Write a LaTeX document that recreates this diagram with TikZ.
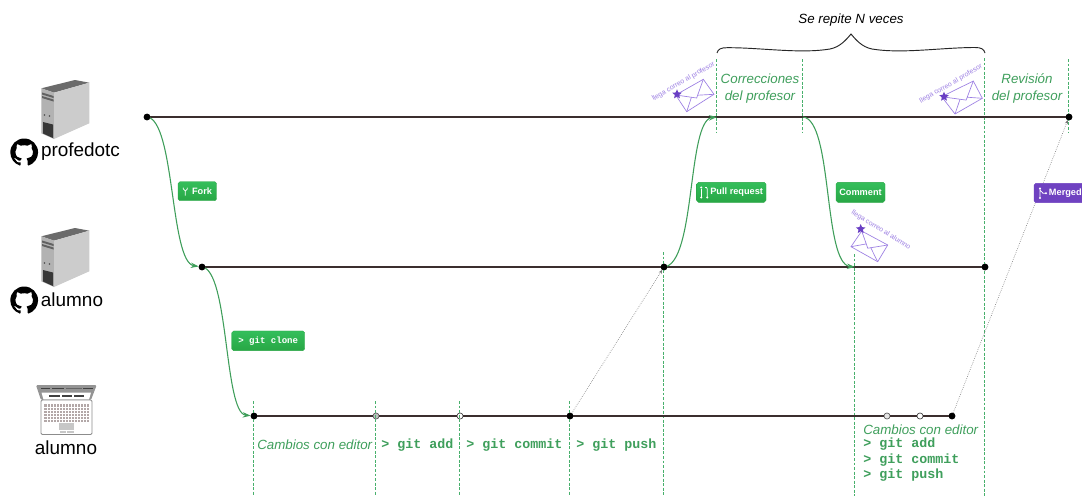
\documentclass[tikz,border=0pt]{standalone}
\usepackage{fontspec}
\setmainfont{Liberation Sans}
\setmonofont{Liberation Mono}
\usetikzlibrary{arrows.meta,calc,shapes.geometric,svg.path}
\definecolor{gtext}{HTML}{3F9F5C}
\definecolor{gcurve}{HTML}{3E9E5A}
\definecolor{gdash}{HTML}{48B06C}
\definecolor{tline}{HTML}{3B2E2E}
\definecolor{pmail}{HTML}{9C7FE3}
\definecolor{pstar}{HTML}{6A3FC4}
\definecolor{bgtop}{HTML}{34BE5B}
\definecolor{bgbot}{HTML}{28A745}
\definecolor{bpurple}{HTML}{6F42C1}
\definecolor{keycol}{HTML}{B3A8A8}
\newcommand{\pxf}[1]{\fontsize{#1pt}{1.2\dimexpr#1pt\relax}\selectfont}
\newcommand{\octomark}[2]{\path[fill=black,shift={(#1,#2)},scale=1.3,yscale=-1] svg {M 8 0 C 3.58 0 0 3.58 0 8 c 0 3.54 2.29 6.53 5.47 7.59 c 0.4 0.07 0.55 -0.17 0.55 -0.38 c 0 -0.19 -0.01 -0.82 -0.01 -1.49 c -2.01 0.37 -2.53 -0.49 -2.69 -0.94 c -0.09 -0.23 -0.48 -0.94 -0.82 -1.13 c -0.28 -0.15 -0.68 -0.52 -0.01 -0.53 c 0.63 -0.01 1.08 0.58 1.23 0.82 c 0.72 1.21 1.87 0.87 2.33 0.66 c 0.07 -0.52 0.28 -0.87 0.51 -1.07 c -1.78 -0.2 -3.64 -0.89 -3.64 -3.95 c 0 -0.87 0.31 -1.59 0.82 -2.15 c -0.08 -0.2 -0.36 -1.02 0.08 -2.12 c 0 0 0.67 -0.21 2.2 0.82 c 0.64 -0.18 1.32 -0.27 2 -0.27 c 0.68 0 1.36 0.09 2 0.27 c 1.53 -1.04 2.2 -0.82 2.2 -0.82 c 0.44 1.1 0.16 1.92 0.08 2.12 c 0.51 0.56 0.82 1.27 0.82 2.15 c 0 3.07 -1.87 3.75 -3.65 3.95 c 0.29 0.25 0.54 0.73 0.54 1.48 c 0 1.07 -0.01 1.93 -0.01 2.2 c 0 0.21 0.15 0.46 0.55 0.38 c 3.18 -1.06 5.47 -4.05 5.47 -7.59 c 0 -4.42 -3.58 -8 -8 -8 z};}
\newcommand{\mailicon}[4]{%
  \draw[mailline] (#1)--(#2)--(#3)--(#4)--cycle;
  \coordinate (mm) at ($(#1)!.5!(#2)$);
  \coordinate (ap) at ($(mm)+0.65*(#4)-0.65*(#1)$);
  \draw[mailline] (#1)--(ap)--(#2);
  \draw[mailline] (#4)--($(#1)!.75!(ap)$);
  \draw[mailline] (#3)--($(#2)!.85!(ap)$);
}
\tikzset{
  dotk/.style={circle,fill=black,draw=black,inner sep=0pt,minimum size=4.6pt},
  dotw/.style={circle,fill=white,draw=black!75,line width=.5pt,inner sep=0pt,minimum size=4.6pt},
  dotg/.style={circle,fill=black!25,draw=black!65,line width=.5pt,inner sep=0pt,minimum size=4.6pt},
  timeline/.style={draw=tline,line width=1.4pt},
  gflow/.style={draw=gcurve,line width=.8pt,-{Stealth[length=6pt,width=4pt]}},
  gdashed/.style={draw=gdash,line width=.75pt,dash pattern=on 2.2pt off 1.2pt},
  pushline/.style={draw=black!55,line width=.45pt,densely dotted,-{Stealth[length=3pt,width=2.4pt]}},
  badgebase/.style={rectangle,rounded corners=1.4pt,inner sep=0pt,text=white,line width=.3pt,font=\pxf{6.9}\bfseries},
  gbadge/.style={badgebase,top color=bgtop,bottom color=bgbot,draw=bgbot},
  pbadge/.style={badgebase,fill=bpurple,draw=bpurple},
  icoline/.style={draw=white,line width=.55pt},
  mailline/.style={draw=pmail,line width=.5pt},
  mailstar/.style={star,star points=5,star point ratio=2.2,fill=pstar,inner sep=0pt,minimum size=7.5pt},
  mailtext/.style={text=pmail,font=\pxf{5.2},inner sep=0pt},
  gtxt/.style={text=gtext,font=\pxf{10}\itshape,inner sep=0pt,align=center},
  gmono/.style={text=gtext,font=\pxf{10}\ttfamily\bfseries,inner sep=0pt,anchor=west},
  nametxt/.style={text=black,font=\pxf{14.2},inner sep=0pt},
  serverpic/.pic={
    \fill[black!58] (41.3,88.3)--(75,80)--(89.3,82.7)--(54,92.7)--cycle;
    \fill[black!30] (41.3,88.3)--(54,92.7)--(54,139)--(41.3,133.3)--cycle;
    \fill[black!20] (54,92.7)--(89.3,82.7)--(89.3,123.3)--(54,139)--cycle;
    \fill[black!62] (42,92.5)--(53.5,96)--(53.5,98)--(42,94.5)--cycle;
    \fill[black!62] (42,96)--(53.5,99.5)--(53.5,101.5)--(42,98)--cycle;
    \fill[black!70] (44.5,115) circle (.9);
    \fill[black!70] (49.5,116) circle (.9);
    \fill[black!78] (43,122)--(53,124.5)--(53,138)--(43,133.5)--cycle;
  }
}
\begin{document}
\begin{tikzpicture}[x=0.75pt,y=-0.75pt]
\useasboundingbox (0,0) rectangle (1082,496);
\clip (0,0) rectangle (1082,496);
\fill[white] (0,0) rectangle (1082,496);

% icons
\pic at (0,0) {serverpic};
\pic at (0,148) {serverpic};
\octomark{10.3}{138.5}
\octomark{10.3}{286.5}

% laptop
\fill[black!42,rounded corners=1pt] (36,385)--(96.7,385)--(91,400)--(41,400)--cycle;
\fill[white] (41.5,392.5)--(91,392.5)--(89,399.5)--(43.5,399.5)--cycle;
\fill[black!75] (40.5,388.3) rectangle (50,389.3);
\fill[black!75] (52,388.3) rectangle (64,389.3);
\fill[black!60] (66,388.3) rectangle (82,389.3);
\fill[black!75] (83,388.3) rectangle (93,389.3);
\fill[black!75] (49,394.5) rectangle (60,396.5);
\fill[black!75] (61.5,394.5) rectangle (72,396.5);
\fill[black!75] (74,394.5) rectangle (84,396.5);
\draw[black!45,fill=white,line width=.7pt,rounded corners=1pt] (41,400) rectangle (92,434.5);
\fill[keycol] (44.3,404.3) rectangle (89.3,421.7);
\foreach \yy in {407,410,413,416,419}{\draw[white,line width=.25pt] (44.3,\yy)--(89.3,\yy);}
\foreach \xx in {47,50,53,56,59,62,65,68,71,74,77,80,83,86}{\draw[white,line width=.2pt] (\xx,404.3)--(\xx,421.7);}
\fill[black!22] (59.3,423) rectangle (74,430);
\fill[black!22] (60,431) rectangle (66.3,432.5);
\fill[black!22] (67,431) rectangle (73.5,432.5);

% names
\node[nametxt] (nprof) at (80.5,152) {profedotc};
\node[nametxt] (nalum) at (72,300) {alumno};
\node[nametxt] (nlap) at (66,447.5) {alumno};

% timeline points
\node[dotk] (a1) at (147,117) {};
\node[dotk] (a2) at (1069,117) {};
\coordinate (a3) at (717,117);
\coordinate (a4) at (803,117);
\node[dotk] (b1) at (202,267) {};
\node[dotk] (b2) at (664,267) {};
\coordinate (b3) at (855,267);
\node[dotk] (b4) at (985,267) {};
\node[dotk] (c1) at (254,416) {};
\node[dotg] (c2) at (376,416) {};
\node[dotw] (c3) at (460,416) {};
\node[dotk] (c4) at (570,416) {};
\node[dotg,fill=black!10] (c5) at (887,416) {};
\node[dotw] (c6) at (920,416) {};
\node[dotk] (c7) at (952,416) {};

% dashed guides
\foreach \nm/\xx/\ya/\yb in {d1/253.6/401/496,d2/375.6/401/496,d3/459.6/401/496,d4/569.6/401/496,d5/663.6/252/496,d6/716.6/59/132,d7/802.6/59/132,d8/854.6/254/496,d9/984.6/58/496,d10/1068.6/59/132}{
  \coordinate (\nm s) at (\xx,\ya);
  \coordinate (\nm e) at (\xx,\yb);
  \draw[gdashed] (\nm s)--(\nm e);
}

% timelines
\draw[timeline] (a1.center)--(a2.center);
\draw[timeline] (b1.center)--(b4.center);
\draw[timeline] (c1.center)--(c2);
\draw[timeline] (c2)--(c3);
\draw[timeline] (c3)--(c4);
\draw[timeline] (c4)--(c5);
\draw[timeline] (c5)--(c6);
\draw[timeline] (c6)--(c7);

% flows
\draw[gflow] (a1.center) .. controls +(28,3) and +(-32,-5) .. (b1);
\draw[gflow] (b1.center) .. controls +(27,3) and +(-30,-3) .. (c1);
\draw[gflow] (b2.center) .. controls +(32,-3) and +(-30,3) .. (a3);
\draw[gflow] (a4) .. controls +(30,3) and +(-32,-3) .. (b3);
\draw[pushline] (c4)--(b2);
\draw[pushline] (c7)--(a2);

% points on top
\foreach \pp in {a1,a2,b1,b2,b4,c1,c4,c7}{\fill[black] (\pp) circle (3.1);}

% badges
\node[gbadge,minimum width=29pt,minimum height=14.25pt] (bfork) at (197.35,191.2) {\hspace{7pt}Fork};
\draw[icoline] (183.3,187.5)--(183.3,189)--(185.3,191)--(187.3,189)--(187.3,187.5) (185.3,191)--(185.3,195.5);
\node[gbadge,minimum width=54.75pt,minimum height=14.75pt,font=\pxf{6.8}\ttfamily\bfseries] (bclone) at (268.2,340.8) {> git clone};
\node[gbadge,minimum width=52pt,minimum height=15pt] (bpull) at (731.35,192.3) {\hspace{8pt}Pull request};
\draw[icoline] (701.3,188.5)--(701.3,197);
\draw[icoline] (705,187.5)--(706.5,187.5)--(707.3,189)--(707.3,197);
\fill[white] (701.3,187.5) circle (1.1) (701.3,197.5) circle (1.1) (707.3,197.5) circle (1.1);
\node[gbadge,minimum width=36.75pt,minimum height=15pt] (bcomment) at (860.5,192.3) {Comment};
\node[pbadge,minimum width=39pt,minimum height=14.5pt] (bmerged) at (1060,193) {\hspace{8pt}Merged};
\draw[icoline] (1040,188.5)--(1040,198) (1040,190)--(1043,193.3)--(1046,193.3);
\fill[white] (1040,188.5) circle (1.1) (1040,198) circle (1.1) (1046,193.3) circle (1.1);

% brace
\draw[black!85,line width=.7pt] (717,53) .. controls (718,49) and (721,47.7) .. (727,47.7)
  .. controls (760,47.5) and (800,54) .. (830,49) .. controls (840,47) and (846,40) .. (851,34)
  .. controls (856,40) and (862,47) .. (872,49) .. controls (902,54) and (942,47.5) .. (975,47.5)
  .. controls (981,47.5) and (984,49) .. (985,53);

% texts
\node[text=black,font=\pxf{10}\itshape,inner sep=0pt] (trepite) at (851,20) {Se repite N veces};
\node[gtxt] (tcorr1) at (760,78.5) {Correcciones};
\node[gtxt] (tcorr2) at (760,97.5) {del profesor};
\node[gtxt] (trev1) at (1027,78.5) {Revisión};
\node[gtxt] (trev2) at (1027,97.5) {del profesor};
\node[gtxt,anchor=west] (tcamb1) at (257,444.5) {Cambios con editor};
\node[gmono] (tadd1) at (381,445.5) {> git add};
\node[gmono] (tcom1) at (466,445.5) {> git commit};
\node[gmono] (tpush1) at (576,445.5) {> git push};
\node[gtxt,anchor=west] (tcamb2) at (863,430) {Cambios con editor};
\node[gmono] (tadd2) at (863,444.5) {> git add};
\node[gmono] (tcom2) at (863,460) {> git commit};
\node[gmono] (tpush2) at (863,475.5) {> git push};

% mails
\mailicon{675.7,95}{703.3,79.3}{714,94.3}{686.7,111.7}
\node[mailstar] (s1) at (677,94.3) {};
\node[mailtext,rotate=30] (m1) at (683.5,81.5) {llega correo al profesor};
\mailicon{941.7,96.7}{973.3,81}{982.3,98.3}{955,114}
\node[mailstar] (s2) at (944,96.7) {};
\node[mailtext,rotate=30] (m2) at (951,84) {llega correo al profesor};
\mailicon{861.7,231}{887.7,245}{877.7,261.7}{851,246.7}
\node[mailstar] (s3) at (860.7,229) {};
\node[mailtext,rotate=-32] (m3) at (881,230) {llega correo al alumno};
\end{tikzpicture}
\end{document}
